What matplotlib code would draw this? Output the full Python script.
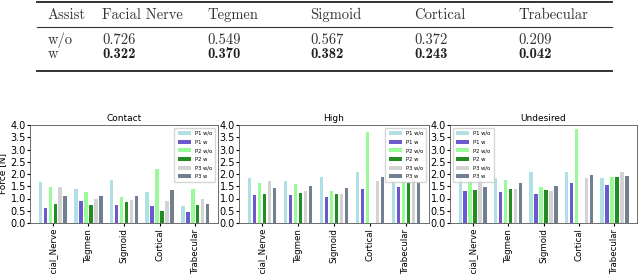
import numpy as np
import matplotlib
matplotlib.use('Agg')
import matplotlib.pyplot as plt

# table values
table_cols = ['Assist', 'Facial Nerve', 'Tegmen', 'Sigmoid', 'Cortical', 'Trabecular']
wo_vals = ['0.726', '0.549', '0.567', '0.372', '0.209']
w_vals = ['0.322', '0.370', '0.382', '0.243', '0.042']

# bar chart values
regions = ['Facial_Nerve', 'Tegmen', 'Sigmoid', 'Cortical', 'Trabecular']
series = ['P1 w/o', 'P1 w', 'P2 w/o', 'P2 w', 'P3 w/o', 'P3 w']
colors = ['powderblue', 'slateblue', 'palegreen', 'forestgreen', 'lightgray', 'slategray']

contact = {
    'P1 w/o': [1.67, 1.40, 1.75, 1.27, 0.68],
    'P1 w':   [0.60, 0.88, 0.72, 0.70, 0.43],
    'P2 w/o': [1.47, 1.27, 1.08, 2.20, 1.40],
    'P2 w':   [0.78, 0.75, 0.85, 0.47, 0.75],
    'P3 w/o': [1.45, 0.98, 0.93, 0.90, 0.96],
    'P3 w':   [1.10, 1.10, 1.10, 1.33, 0.78],
}
high = {
    'P1 w/o': [1.85, 1.73, 1.88, 2.08, 1.70],
    'P1 w':   [1.15, 1.13, 1.06, 1.40, 1.45],
    'P2 w/o': [1.63, 1.58, 1.32, 3.73, 1.73],
    'P2 w':   [1.18, 1.22, 1.18, np.nan, 1.66],
    'P3 w/o': [1.72, 1.29, 1.18, 1.72, 1.85],
    'P3 w':   [1.42, 1.50, 1.42, 1.87, 1.66],
}
undesired = {
    'P1 w/o': [1.98, 1.83, 2.08, 2.10, 1.83],
    'P1 w':   [1.30, 1.25, 1.20, 1.62, 1.55],
    'P2 w/o': [1.70, 1.74, 1.46, 3.82, 1.87],
    'P2 w':   [1.33, 1.39, 1.33, np.nan, 1.87],
    'P3 w/o': [1.82, 1.40, 1.30, 1.84, 2.08],
    'P3 w':   [1.48, 1.63, 1.51, 1.96, 1.92],
}

W, H = 640, 275
fig = plt.figure(figsize=(6.4, 2.75), dpi=100)


def fx(px):
    return px / W


def fy(py):
    return 1 - py / H


# --- table drawn as text + rules ---
col_x = [48, 102, 207, 310, 414, 518]
fs = 10.5
for y, lw in [(2, 1.4), (27, 0.8), (71, 1.4)]:
    fig.add_artist(plt.Line2D([fx(37), fx(612)], [fy(y), fy(y)], color='#333333', lw=lw))
for x, t in zip(col_x, table_cols):
    fig.text(fx(x), fy(19), t, family='cmr10', fontsize=fs, va='baseline', color='#333333')
fig.text(fx(col_x[0]), fy(44), 'w/o', family='cmr10', fontsize=fs, va='baseline', color='#333333')
fig.text(fx(col_x[0]), fy(58), 'w', family='cmr10', fontsize=fs, va='baseline', color='#333333')
for x, v in zip(col_x[1:], wo_vals):
    fig.text(fx(x), fy(44), v, family='cmr10', fontsize=fs, va='baseline', color='#333333')
for x, v in zip(col_x[1:], w_vals):
    fig.text(fx(x), fy(58), v, family='cmb10', fontsize=fs, va='baseline', color='#222222')

# --- bar charts ---
panels = [('Contact', contact, 30, 218, 'upper right'),
          ('High', high, 239, 429, 'upper right'),
          ('Undesired', undesired, 450, 637, 'upper left')]
top, bottom = 125, 223
x = np.arange(len(regions))
width = 0.1
step = 0.14

for i, (title, data, x0, x1, loc) in enumerate(panels):
    ax = fig.add_axes([fx(x0), fy(bottom), (x1 - x0) / W, (bottom - top) / H])
    for j, s in enumerate(series):
        ax.bar(x + (j - 2.5) * step, data[s], width, color=colors[j], label=s)
    ax.set_ylim(0, 4.0)
    ax.set_yticks(np.arange(0, 4.01, 0.5))
    ax.set_xticks(x)
    ax.set_xticklabels(regions, rotation=90, fontsize=6.2)
    ax.tick_params(axis='y', labelsize=7, length=2, pad=1)
    ax.tick_params(axis='x', length=2, pad=1.5)
    ax.set_title(title, fontsize=6.5, pad=3)
    for sp in ax.spines.values():
        sp.set_linewidth(0.6)
        sp.set_color('#555555')
    if i == 0:
        ax.set_ylabel('Force [N]', fontsize=6.5, labelpad=2)
    ax.legend(loc=loc, fontsize=3.8, handlelength=2.5, handleheight=0.8,
              borderpad=0.6, labelspacing=0.7, framealpha=0.8, edgecolor='#cccccc')

fig.savefig('out.png', dpi=100)
